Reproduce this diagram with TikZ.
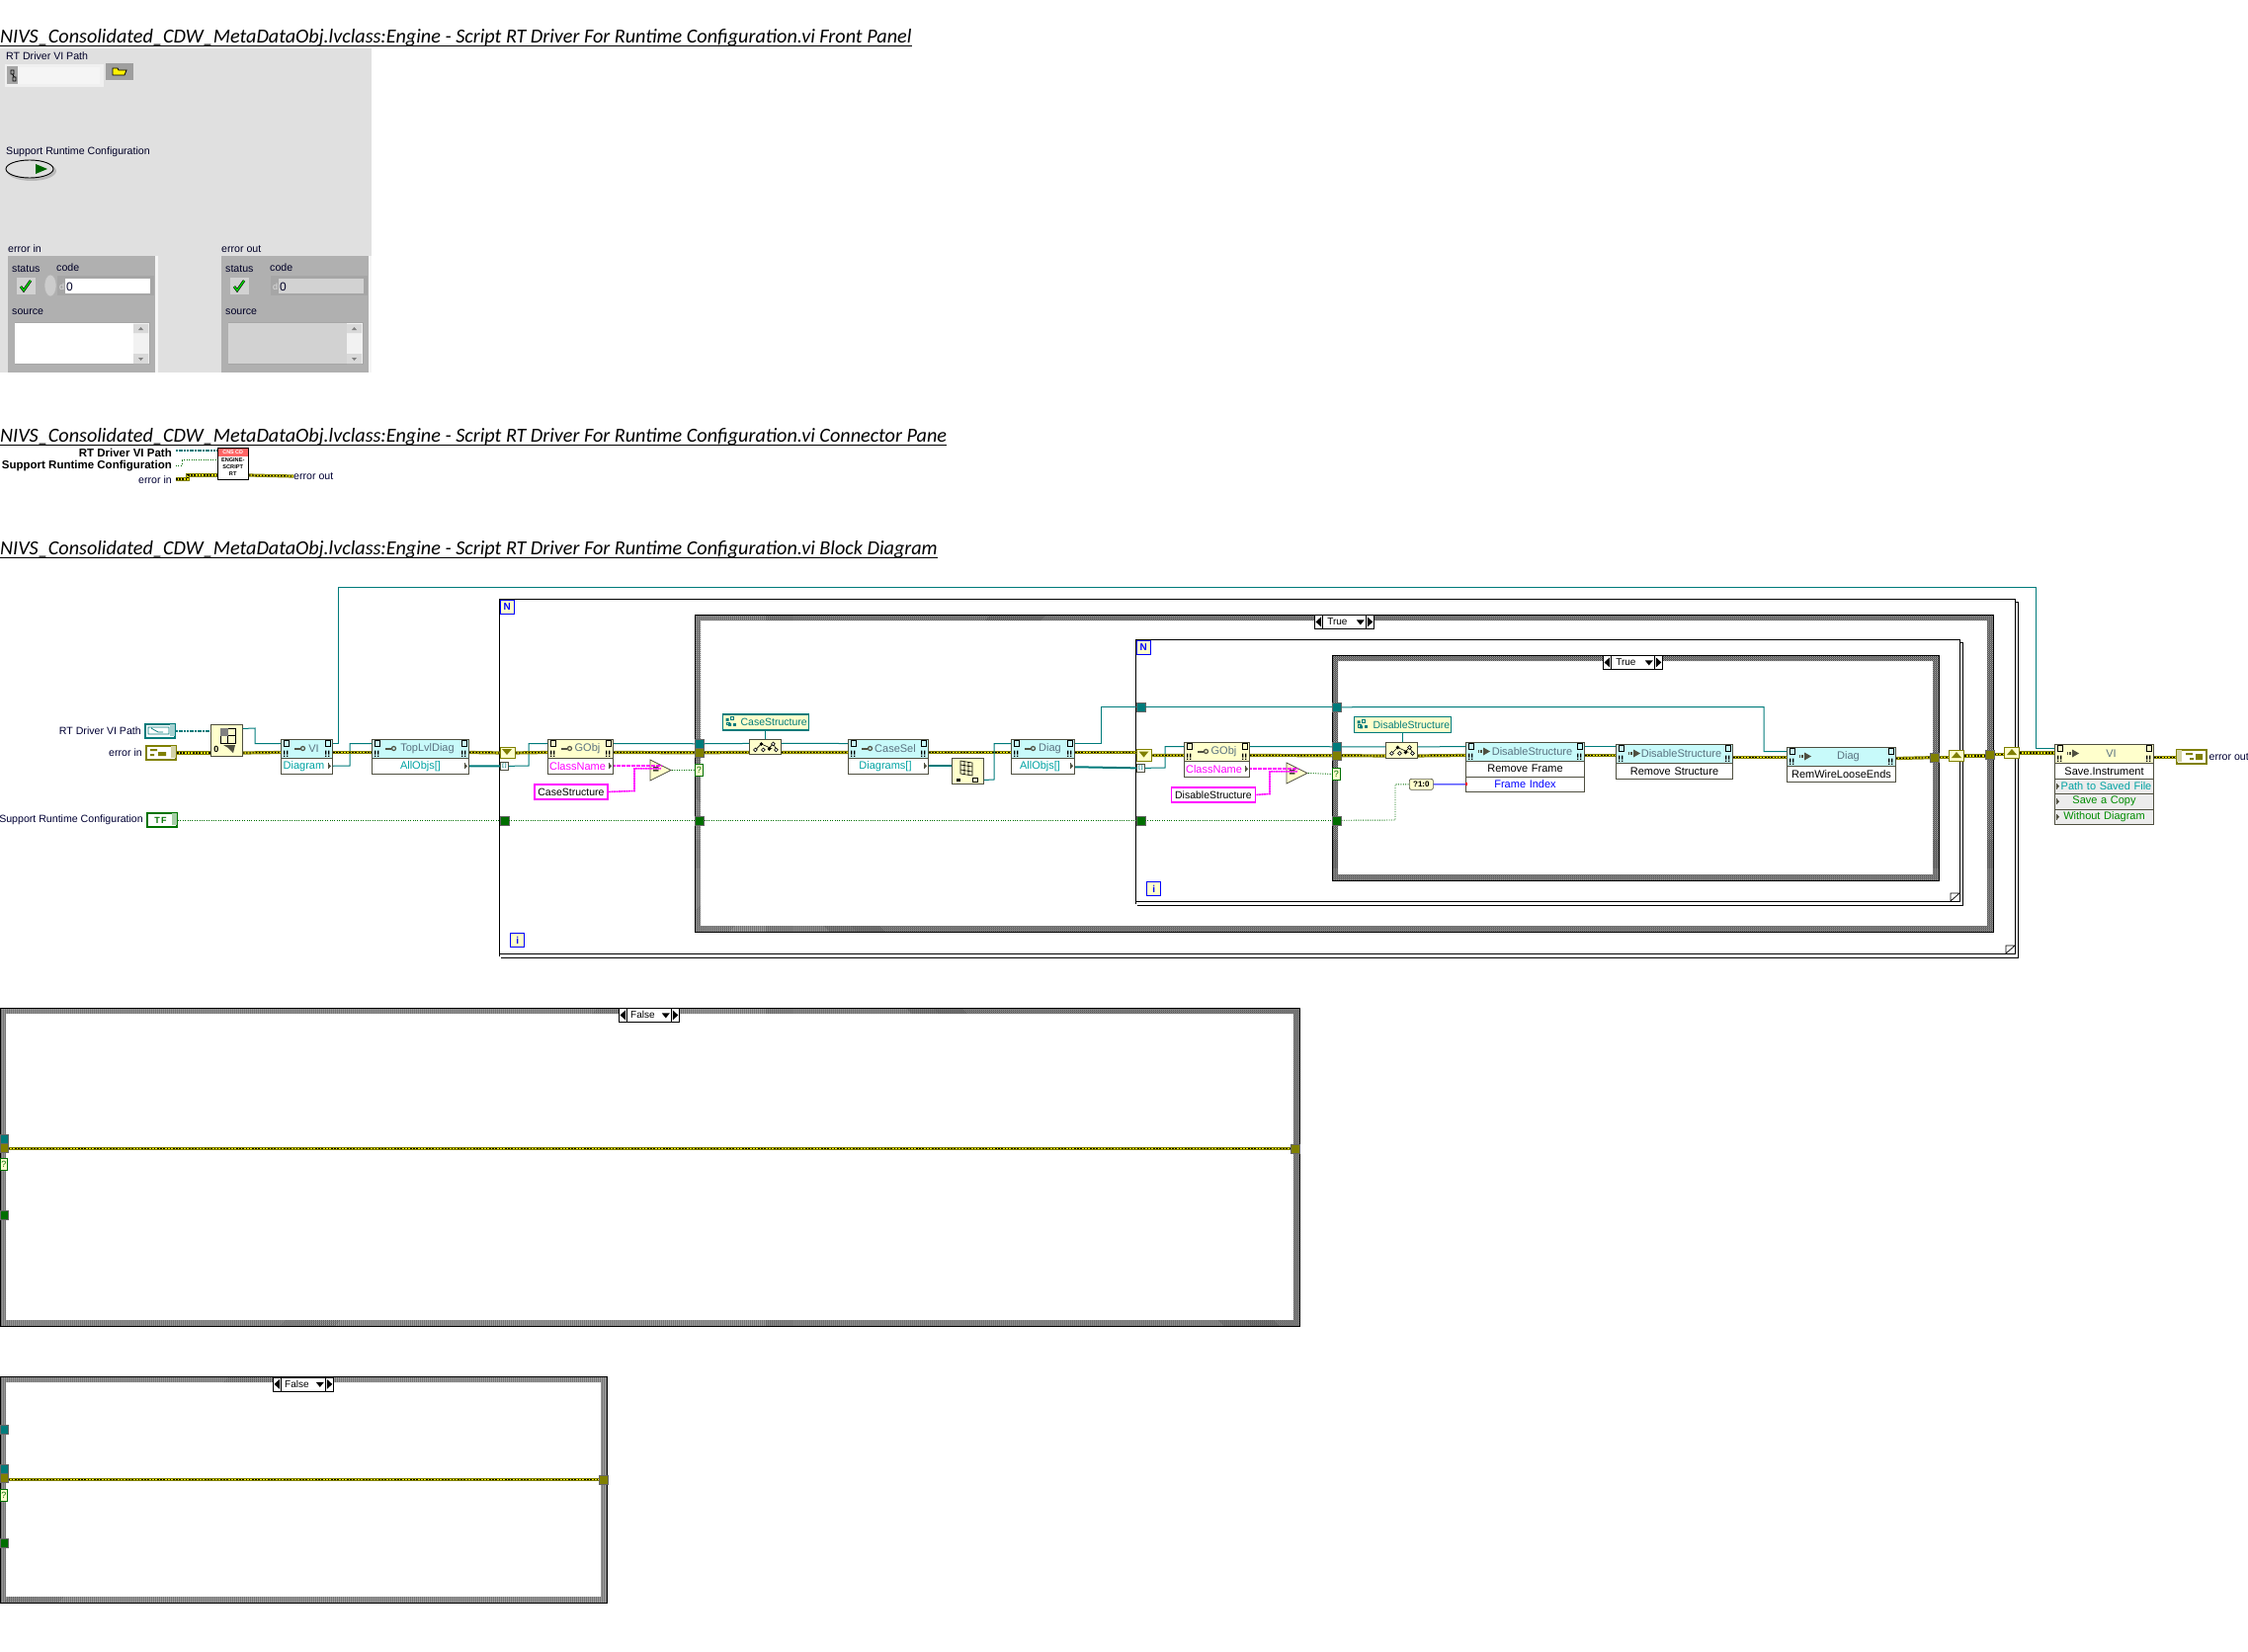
\documentclass[tikz,border=0pt]{standalone}
\usepackage{fontspec}
\usepackage{xcolor}
\usetikzlibrary{arrows.meta,patterns.meta,positioning,shapes.geometric}
\setmainfont{Liberation Sans}
\newfontfamily\titlefont{Carlito}
\definecolor{panelgray}{HTML}{E0E0E0}
\definecolor{clustergray}{HTML}{B0B0B0}
\definecolor{wireteal}{HTML}{007B7B}
\definecolor{wireolive}{HTML}{808000}
\definecolor{wiregreen}{HTML}{006E00}
\definecolor{wirepink}{HTML}{FF00FF}
\definecolor{viteal}{HTML}{C8FAFA}
\definecolor{viyellow}{HTML}{FFFFCC}
\definecolor{nodeedge}{HTML}{4F4F40}
\definecolor{hdrtext}{HTML}{5A7280}
\definecolor{rowgray}{HTML}{ECECEC}
\newcommand{\casewall}[4]{%
  \path[hatchfill,even odd rule] (#1,#2) rectangle (#3,#4) (#1+6,#2+6) rectangle (#3-6,#4-6);
  \draw[line width=1pt] (#1,#2) rectangle (#3,#4);}
\newcommand{\loopwall}[4]{%
  \draw[line width=1pt] (#1,#4) -- (#1,#2) -- (#3,#2) -- (#3,#4-3) -- (#1,#4-3);
  \draw[line width=1pt] (#3,#2+3) -- (#3+3.5,#2+3) -- (#3+3.5,#4+1) -- (#1+2,#4+1);
  \draw[line width=.7pt] (#3-9,#4-3) -- (#3-9,#4-11) -- (#3,#4-11) (#3-9,#4-3) -- (#3,#4-11);}
\tikzset{
  hatchfill/.style={pattern={Hatch[angle=45,distance=1.414pt,line width=.36pt]},pattern color=black},
  keymark/.pic={\draw[line width=2pt,draw=nodeedge] (0,0) -- (6,0); \draw[line width=1.2pt,draw=nodeedge] (8.5,0) circle (2);},
  setmark/.pic={\draw[line width=2.4pt,draw=nodeedge,dash pattern=on 1.4pt off 1pt] (0,0) -- (5,0); \fill[nodeedge] (5,-4) -- (12,0) -- (5,4) -- cycle;},
  docmark/.pic={\draw[line width=.6pt] (0,0) rectangle (5,6);
    \fill (0,10) rectangle (1.3,14) (0,15) rectangle (1.3,16.3) (3,10) rectangle (4.3,14) (3,15) rectangle (4.3,16.3);},
  outmark/.pic={\fill[nodeedge] (0,-3) -- (3,0) -- (0,3) -- cycle; \draw[line width=.5pt,draw=nodeedge] (0,-3) -- (0,3);},
  treemark/.pic={\draw[line width=.6pt] (-9,2) -- (-4,-3) -- (7,2) (3,2) -- (8,-3) -- (11,2);
    \fill (-4,-3) circle (1.9) (4,2) circle (1.9);
    \draw[line width=.6pt,fill=white] (-10,3) circle (1.9) (-2,3) circle (1.9) (8,-3) circle (1.9) (11,3) circle (1.9);},
  constmark/.pic={\fill[wireteal] (0,-4) rectangle (3,-1) (2.5,1) rectangle (5.5,4);
    \draw[line width=.6pt,draw=wireteal] (1,0.5) rectangle (4,3) (5,-5) rectangle (8,-2);
    \fill[wireteal] (7,1) rectangle (10,4);},
  % wires
  tw/.style={draw=wireteal,line width=1pt},
  tthick/.style={draw=wireteal,line width=2pt},
  pathw/.style={draw=wireteal,line width=1.5pt,dash pattern=on 2pt off .7pt},
  gw/.style={draw=wiregreen,line width=.9pt,dash pattern=on 1pt off 1.4pt},
  pinkw/.style={draw=wirepink,line width=1.6pt,dash pattern=on 2pt off .5pt},
  bluew/.style={draw=blue,line width=1pt},
  errw/.style={draw=wireolive,line width=3.2pt,
    postaction={draw=yellow,line width=1.2pt,solid},
    postaction={draw=black,line width=1.2pt,dash pattern=on 1.6pt off 1.6pt}},
  upw/.style={yshift=5.5pt},
  dnw/.style={yshift=-3.5pt},
  % nodes
  hdr/.style={draw=nodeedge,line width=1pt,anchor=north west,inner sep=0pt,text width=#1,minimum height=19pt,align=center,
    text=hdrtext,font=\fontsize{11}{12}\selectfont,execute at begin node={\hspace*{14pt}}},
  tealhdr/.style={hdr=#1,fill=viteal},
  yelhdr/.style={hdr=#1,fill=viyellow},
  proprow/.style={draw=nodeedge,line width=1pt,fill=white,inner sep=0pt,text width=#1,minimum height=15.5pt,align=center,
    font=\fontsize{11}{12}\selectfont},
  tealtun/.style={draw=gray!80!black,line width=.5pt,fill=wireteal,anchor=north west,inner sep=0pt,minimum width=9pt,minimum height=9pt},
  olivetun/.style={tealtun,fill=wireolive},
  greentun/.style={tealtun,fill=wiregreen},
  sreg/.style={draw=wireolive,line width=1.4pt,fill=viyellow,anchor=north west,inner sep=0pt,minimum width=15pt,minimum height=11.5pt},
  idxtun/.style={draw=nodeedge,line width=.7pt,fill=white,anchor=north west,inner sep=0pt,minimum width=8pt,minimum height=8pt,
    text=wireteal,font=\bfseries\fontsize{5}{5}\selectfont},
  qtun/.style={draw=wiregreen,line width=.8pt,fill=viyellow,anchor=north west,inner sep=0pt,minimum width=8pt,minimum height=12pt,
    text=wiregreen,font=\fontsize{9}{9}\selectfont},
  iconbox/.style={draw=nodeedge,line width=.9pt,fill=viyellow,anchor=north west,inner sep=0pt},
  strconst/.style={draw=wirepink,line width=1.8pt,fill=white,anchor=north west,inner sep=0pt,minimum height=15pt,
    font=\fontsize{10.5}{11}\selectfont},
  tconst/.style={draw=wireteal,line width=1.5pt,fill=viyellow,anchor=north west,inner sep=0pt,minimum height=16pt,
    text=wireteal,font=\fontsize{10.5}{11}\selectfont},
  eqnode/.style={isosceles triangle,isosceles triangle stretches=true,draw=nodeedge,line width=.8pt,fill=viyellow,inner sep=0pt,
    minimum width=21pt,minimum height=21pt,anchor=apex,font=\bfseries\fontsize{11}{11}\selectfont},
  ctrlbox/.style={line width=2pt,fill=white,anchor=north west,inner sep=0pt,minimum width=30pt,minimum height=14pt},
  dlabel/.style={inner sep=0pt,text=black!80!blue,font=\fontsize{10.6}{12}\selectfont},
  fplabel/.style={inner sep=0pt,anchor=west,text=black!85!blue,font=\fontsize{10.6}{12}\selectfont},
  cplabel/.style={inner sep=0pt,anchor=east,font=\bfseries\fontsize{11.5}{12}\selectfont},
  titlelab/.style={inner sep=0pt,anchor=base west,font=\titlefont\itshape\fontsize{20.2}{22}\selectfont},
  casesel/.style={draw=black,line width=.8pt,fill=white,anchor=north west,inner sep=0pt,minimum height=14pt,
    font=\fontsize{10}{11}\selectfont},
  nbox/.style={draw=blue,line width=1.4pt,fill=viyellow,anchor=north west,inner sep=0pt,minimum width=14pt,minimum height=14pt,
    text=blue,font=\bfseries\fontsize{10}{10}\selectfont}
}
\begin{document}
\begin{tikzpicture}[x=1pt,y=-1pt]
  \useasboundingbox (0,0) rectangle (2275,1672);
  % titles
  \node[titlelab] (title1) at (0,43.5) {NIVS\_Consolidated\_CDW\_MetaDataObj.lvclass:Engine - Script RT Driver For Runtime Configuration.vi Front Panel};
  \node[titlelab] (title2) at (0,447) {NIVS\_Consolidated\_CDW\_MetaDataObj.lvclass:Engine - Script RT Driver For Runtime Configuration.vi Connector Pane};
  \node[titlelab] (title3) at (0,561) {NIVS\_Consolidated\_CDW\_MetaDataObj.lvclass:Engine - Script RT Driver For Runtime Configuration.vi Block Diagram};
  \foreach \t in {title1,title2,title3}
    \draw[line width=1pt] ([yshift=-3pt]\t.base west) -- ([yshift=-3pt]\t.base east);
  % front panel
  \fill[panelgray] (0,49) rectangle (376,377);
  \node[fplabel] (lblpath) at (6,57) {RT Driver VI Path};
  \fill[gray!12] (5,65) rectangle (105,88);
  \fill[gray!70] (7,67) rectangle (18,85);
  \fill[white!96!black] (18,68) rectangle (101,85);
  \draw[line width=.7pt] (11,71) rectangle (14,75) (13,78) rectangle (16,82) (12.5,75) -- (14.5,78);
  \fill[gray!75] (107,64) rectangle (135,81);
  \draw[fill=yellow,line width=.8pt] (114,69) -- (119,69) -- (120,71) -- (128,71) -- (126,76) -- (114,76) -- cycle;
  \node[fplabel] (lblsup) at (6,154) {Support Runtime Configuration};
  \fill[gray!55] (32,173) ellipse (25 and 10);
  \draw[fill=gray!25,line width=.9pt] (30,171) ellipse (24 and 9);
  \fill[green!40!black] (36,166) -- (48,171) -- (36,176) -- cycle;
  \node[fplabel] (lblerrin) at (8,252) {error in};
  \node[fplabel] (lblerrout) at (224,252) {error out};
  \foreach \ox/\fld in {0/white,216/gray!35}{
    \begin{scope}[xshift=\ox pt]
      \fill[clustergray] (8,259) rectangle (157,377);
      \fill[gray!8] (157,259) rectangle (160,377);
      \fill[gray!35] (17,281) rectangle (36,298);
      \draw[line width=2.6pt] (21,290) -- (24,294) -- (31,284);
      \draw[line width=1.4pt,draw=green!85!black] (21,290) -- (24,294) -- (31,284);
      \fill[gray!70] (58,279) rectangle (156,299);
      \fill[\fld] (66,282) rectangle (152,297);
      \fill[gray!70] (15,326) rectangle (152,369);
      \fill[\fld] (15,327) rectangle (135,368);
      \fill[gray!10] (135,327) rectangle (151,368);
      \fill[gray!30] (135,328) rectangle (150,337) (135,358) rectangle (150,368);
      \fill[gray] (140,334) -- (145,334) -- (142.5,331) -- cycle (140,362) -- (145,362) -- (142.5,365) -- cycle;
      \node[fplabel] at (12,272) {status};
      \node[fplabel] at (57,271) {code};
      \node[fplabel] at (12,316) {source};
      \node[fplabel,font=\fontsize{12}{12}\selectfont] at (67,290) {0};
      \node[fplabel,text=gray!25,font=\fontsize{9}{9}\selectfont] at (60,290) {d};
    \end{scope}}
  \draw[fill=gray!40,draw=gray!60,line width=.5pt] (51,289) ellipse (6 and 11);
  % connector pane
  \node[cplabel] (cppath) at (174,458) {RT Driver VI Path};
  \node[cplabel] (cpsup) at (174,472) {Support Runtime Configuration};
  \node[inner sep=0pt,anchor=east,text=black!80!blue,font=\fontsize{10.6}{12}\selectfont] (cperr) at (174,486) {error in};
  \node[draw=black,line width=1pt,fill=white,anchor=north west,inner sep=0pt,minimum width=31pt,minimum height=32pt] (cpicon) at (220,453) {};
  \node[fill=red!60,anchor=north west,inner sep=0pt,minimum width=30pt,minimum height=8pt,text=white,font=\bfseries\fontsize{5.4}{6}\selectfont] (cpred) at (220.5,453.5) {CNS CD};
  \node[inner sep=0pt,align=center,font=\bfseries\fontsize{5.6}{7}\selectfont,below=1pt of cpred] (cptext) {ENGINE-\\SCRIPT\\RT};
  \node[inner sep=0pt,anchor=west,text=black!80!blue,font=\fontsize{10.6}{12}\selectfont] (cpout) at (297,482) {error out};
  \draw[pathw] ([shift={(4pt,2pt)}]cppath.east) -- ([yshift=-3pt]cpicon.north west);
  \draw[gw] ([shift={(4pt,1pt)}]cpsup.east) -- (184,471) |- ([yshift=-12pt]cpicon.north west);
  \draw[errw] ([shift={(4pt,1pt)}]cperr.east) -- (190,485) |- ([yshift=-28pt]cpicon.north west);
  \draw[errw] ([yshift=-28pt]cpicon.north east) -- (cpout.west);
  % block diagram frames
  \loopwall{505}{606}{2039}{968}
  \casewall{703}{622}{2017}{943}
  \loopwall{1149}{647}{1983}{915}
  \casewall{1348}{663}{1962}{891}
  \casewall{0}{1020}{1315}{1342}
  \casewall{0}{1393}{614}{1622}
  \node[casesel,minimum width=60pt] (selouter) at (1330,622) {True\hspace{14pt}\null};
  \node[casesel,minimum width=60pt] (selinner) at (1622,663) {True\hspace{14pt}\null};
  \node[casesel,minimum width=61pt] (selfalse1) at (626,1020) {False\hspace{13pt}\null};
  \node[casesel,minimum width=61pt] (selfalse2) at (276,1393.5) {False\hspace{13pt}\null};
  \foreach \s in {selouter,selinner,selfalse1,selfalse2}{
    \draw[line width=.8pt] ([xshift=8pt]\s.north west) -- ([xshift=8pt]\s.south west)
      ([xshift=-8pt]\s.north east) -- ([xshift=-8pt]\s.south east);
    \fill ([shift={(1.5pt,0pt)}]\s.west) -- ([shift={(7pt,5pt)}]\s.west) -- ([shift={(7pt,-5pt)}]\s.west) -- cycle;
    \fill ([shift={(-1.5pt,0pt)}]\s.east) -- ([shift={(-7pt,5pt)}]\s.east) -- ([shift={(-7pt,-5pt)}]\s.east) -- cycle;
    \fill ([shift={(-18pt,2pt)}]\s.east) -- ([shift={(-10pt,2pt)}]\s.east) -- ([shift={(-14pt,-3pt)}]\s.east) -- cycle;
  }
  \node[nbox] (nouter) at (505.5,606.5) {N};
  \node[nbox] (ninner) at (1149.5,647.5) {N};
  \node[nbox] (iouter) at (516,944) {i};
  \node[nbox] (iinner) at (1160,892) {i};
  % terminals
  \node[ctrlbox,draw=wireteal] (ctlpath) at (146,732) {};
  \fill[wireteal!35] (ctlpath.north east) ++(-6pt,-1pt) rectangle ++(5pt,-12pt);
  \draw[wireteal,line width=.7pt] (150,736) rectangle (171,743) (153,737) -- (160,741) -- (165,741);
  \node[dlabel,left=3pt of ctlpath] (lblctlpath) {RT Driver VI Path};
  \node[ctrlbox,draw=wireolive] (ctlerr) at (147,754) {};
  \fill[wireolive!35] (ctlerr.north east) ++(-6pt,-1pt) rectangle ++(5pt,-12pt);
  \fill[wireolive] (152,758) rectangle (159,760) (152,763) rectangle (156,765) (160,761) rectangle (168,765);
  \node[dlabel,left=3pt of ctlerr] (lblctlerr) {error in};
  \node[ctrlbox,draw=green!45!black,text=green!45!black,font=\bfseries\fontsize{9}{9}\selectfont] (ctlsup) at (148,822) {T\,F\hspace{3pt}\null};
  \fill[green!45!black!35] (ctlsup.north east) ++(-6pt,-1pt) rectangle ++(5pt,-12pt);
  \node[dlabel,left=3pt of ctlsup] (lblctlsup) {Support Runtime Configuration};
  \node[ctrlbox,draw=wireolive] (ctlout) at (2202,758) {};
  \fill[wireolive!35] (ctlout.north west) ++(1pt,-1pt) rectangle ++(5pt,-12pt);
  \fill[wireolive] (2212,762) rectangle (2219,764) (2216,767) rectangle (2220,769) (2222,763) rectangle (2229,769);
  \node[dlabel,right=1.5pt of ctlout] (lblctlout) {error out};
  % first row of nodes
  \node[iconbox,minimum width=32pt,minimum height=32pt] (tabnode) at (213,733) {};
  \draw[line width=.8pt] (223,737) rectangle (238,752) (230.5,737) -- (230.5,752) (223,744.5) -- (238,744.5);
  \fill[gray] (223,737) rectangle (230.5,744.5);
  \fill[nodeedge] (226,754) -- (238,754) -- (236,762) -- (231,757) -- cycle;
  \node[inner sep=0pt,font=\bfseries\fontsize{9}{9}\selectfont] (tabzero) at (219,758) {0};
  \node[tealhdr=52pt] (vi) at (284,748) {VI};
  \node[proprow=52pt,text=wireteal!70!cyan,below=-1pt of vi] (viprop) {Diagram\hspace{6pt}\null};
  \node[tealhdr=98pt] (topdiag) at (376,748) {TopLvlDiag};
  \node[proprow=98pt,text=wireteal!70!cyan,below=-1pt of topdiag] (topprop) {AllObjs[]};
  \node[sreg] (srin1) at (505.5,755.5) {};
  \fill[wireolive] (508,758) -- (518,758) -- (513,764) -- cycle;
  \node[idxtun] (idx1) at (506,771) {[\,]};
  % outer case, left part
  \node[yelhdr=66pt] (gobj1) at (554,748) {GObj};
  \node[proprow=66pt,text=wirepink,below=-1pt of gobj1] (gobj1prop) {ClassName\hspace{6pt}\null};
  \node[strconst,minimum width=74pt] (strcase) at (540,793) {CaseStructure};
  \node[eqnode] (eq1) at (680,779.5) {=};
  \node[tealtun] (tt1) at (703,748) {};
  \node[olivetun] (to1) at (703,757) {};
  \node[qtun] (q1) at (703,773) {?};
  \node[greentun] (tg1) at (505.5,825.5) {};
  \node[greentun] (tg2) at (703,825.5) {};
  \node[iconbox,minimum width=32pt,minimum height=15pt] (sel1) at (758,748) {};
  \node[tconst,minimum width=87pt,text width=84pt,align=right] (cs1) at (730.5,722) {CaseStructure};
  \node[tealhdr=81pt] (casesel) at (858,748) {CaseSel};
  \node[proprow=81pt,text=wireteal!70!cyan,below=-1pt of casesel] (caseselprop) {Diagrams[]\hspace{6pt}\null};
  \node[iconbox,minimum width=32pt,minimum height=26pt] (arrnode) at (963,767) {};
  \draw[line width=.6pt] (972,770) -- (984,772) -- (984,785) -- (972,783) -- cycle (976,770.5) -- (976,783.5) (980,771) -- (980,784.5) (972,774) -- (984,776) (972,779) -- (984,781);
  \fill (968,788) rectangle (972,791);
  \draw[line width=.6pt] (984,787) rectangle (989,791);
  \node[tealhdr=64pt] (diag1) at (1023,748) {Diag};
  \node[proprow=64pt,text=wireteal!70!cyan,below=-1pt of diag1] (diag1prop) {AllObjs[]\hspace{6pt}\null};
  % inner loop and case
  \node[tealtun] (tl1) at (1149.5,711) {};
  \node[tealtun] (tl2) at (1348,711) {};
  \node[sreg] (srin2) at (1150,758) {};
  \fill[wireolive] (1152.5,760.5) -- (1162.5,760.5) -- (1157.5,766.5) -- cycle;
  \node[idxtun] (idx2) at (1150,773) {[\,]};
  \node[greentun] (tg3) at (1149.5,825.5) {};
  \node[greentun] (tg4) at (1348,825.5) {};
  \node[yelhdr=66pt] (gobj2) at (1198,751) {GObj};
  \node[proprow=66pt,text=wirepink,below=-1pt of gobj2] (gobj2prop) {ClassName\hspace{6pt}\null};
  \node[strconst,minimum width=85pt] (strdis) at (1184.5,796) {DisableStructure};
  \node[eqnode] (eq2) at (1324,782.5) {=};
  \node[tealtun] (tt2) at (1348,751) {};
  \node[olivetun] (to2) at (1348,760) {};
  \node[qtun] (q2) at (1348,777) {?};
  \node[iconbox,minimum width=32pt,minimum height=16pt] (sel2) at (1402,751) {};
  \node[tconst,minimum width=98pt,text width=96pt,align=right] (cs2) at (1369.5,724.5) {DisableStructure};
  \node[tealhdr=120pt] (dsa) at (1483,751) {DisableStructure};
  \node[proprow=120pt,below=-1pt of dsa] (dsarow) {Remove Frame};
  \node[proprow=120pt,text=blue,below=-1pt of dsarow] (dsaidx) {Frame Index};
  \node[draw=nodeedge,line width=.7pt,fill=viyellow,rounded corners=2pt,anchor=north west,inner sep=0pt,minimum width=24pt,minimum height=11pt,font=\bfseries\fontsize{8}{8}\selectfont] (boolint) at (1426,788) {?1:0};
  \node[tealhdr=118pt] (dsb) at (1635,753) {DisableStructure};
  \node[proprow=118pt,below=-1pt of dsb] (dsbrow) {Remove Structure};
  \node[tealhdr=110pt] (diag2) at (1808,756) {Diag};
  \node[proprow=110pt,below=-1pt of diag2] (diag2row) {RemWireLooseEnds};
  \node[olivetun] (to3) at (1953,762) {};
  \node[sreg] (srout1) at (1972,758.5) {};
  \fill[wireolive] (1975,767) -- (1985,767) -- (1980,761) -- cycle;
  \node[olivetun] (to4) at (2009,759) {};
  \node[sreg] (srout2) at (2028,755.5) {};
  \fill[wireolive] (2031,764) -- (2041,764) -- (2036,758) -- cycle;
  \node[yelhdr=100pt] (save) at (2079,753) {VI};
  \node[proprow=100pt,below=-1pt of save] (saverow) {Save.Instrument};
  \node[proprow=100pt,fill=rowgray,text=wireteal!70!cyan,below=-1pt of saverow] (savepath) {\hspace{4pt}Path to Saved File};
  \node[proprow=100pt,fill=rowgray,text=green!55!black,below=-1pt of savepath] (savecopy) {Save a Copy};
  \node[proprow=100pt,fill=rowgray,text=green!55!black,below=-1pt of savecopy] (savenodiag) {Without Diagram};
  % False cases
  \node[tealtun,minimum width=8pt] (f1teal) at (0,1148) {};
  \node[olivetun,minimum width=8pt] (f1olive) at (0,1157) {};
  \node[qtun,minimum width=7pt] (f1q) at (0,1172) {?};
  \node[greentun,minimum width=8pt] (f1green) at (0,1225) {};
  \node[olivetun] (f1out) at (1306,1158) {};
  \node[tealtun,minimum width=8pt] (f2teala) at (0,1442) {};
  \node[tealtun,minimum width=8pt] (f2tealb) at (0,1482) {};
  \node[olivetun,minimum width=8pt] (f2olive) at (0,1491) {};
  \node[qtun,minimum width=7pt] (f2q) at (0,1507) {?};
  \node[greentun,minimum width=8pt] (f2green) at (0,1557) {};
  \node[olivetun] (f2out) at (606,1493) {};
  % icons on the nodes
  \foreach \n in {vi,topdiag,gobj1,casesel,diag1,gobj2,dsa,dsb,diag2,save}{
    \pic at ([shift={(3pt,-1.5pt)}]\n.north west) {docmark};
    \pic at ([shift={(-8pt,-1.5pt)}]\n.north east) {docmark};
  }
  \foreach \n in {vi,topdiag,gobj1,casesel,diag1,gobj2}
    \pic at ([shift={(14pt,-9.5pt)}]\n.north west) {keymark};
  \foreach \n in {dsa,dsb,diag2,save}
    \pic at ([shift={(13pt,-9.5pt)}]\n.north west) {setmark};
  \foreach \n in {viprop,topprop,gobj1prop,caseselprop,diag1prop,gobj2prop}
    \pic at ([xshift=-5pt]\n.east) {outmark};
  \foreach \n in {savepath,savecopy,savenodiag}
    \pic at ([xshift=2pt]\n.west) {outmark};
  \foreach \n in {sel1,sel2}
    \pic at (\n.center) {treemark};
  \pic at ([xshift=4pt]cs1.west) {constmark};
  \pic at ([xshift=4pt]cs2.west) {constmark};
  \fill[red] ([yshift=1.5pt]dsaidx.west) rectangle ++(2pt,-3pt);
  % wires, left to right
  \draw[pathw] (ctlpath.east) -- (ctlpath.east -| tabnode.west);
  \draw[errw] (ctlerr.east) -- (ctlerr.east -| tabnode.west);
  \draw[errw] (ctlerr.east -| tabnode.east) -- ([dnw]vi.west);
  \draw[tw] ([yshift=12pt]tabnode.east) -- (258,737) |- ([upw]vi.west);
  \draw[tw] ([upw]vi.east) -- (342,752.5) |- (2060,594) -- (2060,757.5) -- ([upw]save.west);
  \draw[tw] (viprop.east) -- (354,775) |- ([upw]topdiag.west);
  \draw[errw] ([dnw]vi.east) -- ([dnw]topdiag.west);
  \draw[errw] ([dnw]topdiag.east) -- (srin1.west);
  \draw[tthick] (topprop.east) -- (idx1.west);
  \draw[tw] (idx1.east) -- (535,775) |- ([upw]gobj1.west);
  \draw[errw] (srin1.east) -- ([dnw]gobj1.west);
  \draw[tw] ([upw]gobj1.east) -- (tt1.west);
  \draw[errw] ([dnw]gobj1.east) -- (to1.west);
  \draw[pinkw] (gobj1prop.east) -- (gobj1prop.east -| eq1.left side);
  \draw[pinkw] (strcase.east) -- (642,800.5) |- ([yshift=-4pt]eq1.left side);
  \draw[gw] (eq1.apex) -- (q1.west);
  \draw[gw] (ctlsup.east) -- (ctlsup.east -| tg1.west);
  \draw[gw] (tg1.east) -- (tg2.west);
  \draw[gw] (tg2.east) -- (tg3.west);
  \draw[gw] (tg3.east) -- (tg4.west);
  \draw[tw] (tt1.east) -- ([yshift=3.5pt]sel1.west);
  \draw[errw] (to1.east) -- ([yshift=-5.5pt]sel1.west);
  \draw[tw] (cs1.south) -- (cs1.south |- sel1.north);
  \draw[tw] ([yshift=3.5pt]sel1.east) -- ([upw]casesel.west);
  \draw[errw] ([yshift=-5.5pt]sel1.east) -- ([dnw]casesel.west);
  \draw[tthick] (caseselprop.east) -- (caseselprop.east -| arrnode.west);
  \draw[errw] ([dnw]casesel.east) -- ([dnw]diag1.west);
  \draw[tw] ([yshift=-9pt]arrnode.east) -- (1006,789) |- ([upw]diag1.west);
  \draw[tw] ([upw]diag1.east) -- (1114.5,752.5) |- (tl1.west);
  \draw[tthick] ([yshift=-1pt]diag1prop.east) -- (idx2.west);
  \draw[errw] ([dnw]diag1.east) -- ([dnw]diag1.east -| srin2.west);
  \draw[tw] (idx2.east) -- (1179,777) |- ([upw]gobj2.west);
  \draw[errw] (srin2.east) -- ([dnw]gobj2.west);
  \draw[tw] ([upw]gobj2.east) -- (tt2.west);
  \draw[errw] ([dnw]gobj2.east) -- (to2.west);
  \draw[pinkw] (gobj2prop.east) -- (gobj2prop.east -| eq2.left side);
  \draw[pinkw] (strdis.east) -- (1285,803.5) |- ([yshift=-4pt]eq2.left side);
  \draw[gw] (eq2.apex) -- (q2.west);
  \draw[tw] (tl1.east) -- (tl2.west);
  \draw[tw] (tl2.east) -- (1785,715.5) |- ([upw]diag2.west);
  \draw[tw] (tt2.east) -- ([yshift=3.5pt]sel2.west);
  \draw[errw] (to2.east) -- ([yshift=-5.5pt]sel2.west);
  \draw[tw] (cs2.south) -- (cs2.south |- sel2.north);
  \draw[tw] ([yshift=3.5pt]sel2.east) -- ([upw]dsa.west);
  \draw[errw] ([yshift=-5.5pt]sel2.east) -- ([dnw]dsa.west);
  \draw[gw] (tg4.east) -- (1412,830) |- (boolint.west);
  \draw[bluew] (boolint.east) -- (dsaidx.west);
  \draw[tw] ([upw]dsa.east) -- ([upw]dsa.east -| dsb.west);
  \draw[errw] ([dnw]dsa.east) -- ([dnw]dsa.east -| dsb.west);
  \draw[errw] ([dnw]dsb.east) -- ([dnw]dsb.east -| diag2.west);
  \draw[errw] ([yshift=-1.5pt]diag2.east) -- (to3.west);
  \draw[errw] (to3.east) -- (to3.east -| srout1.west);
  \draw[errw] (srout1.east) -- (srout1.east -| to4.west);
  \draw[errw] (to4.east) -- (to4.east -| srout2.west);
  \draw[errw] (srout2.east) -- (srout2.east -| save.west);
  \draw[errw] ([dnw]save.east) -- ([dnw]save.east -| ctlout.west);
  \draw[errw] (f1out.west -| f1olive.east) -- (f1out.west);
  \draw[errw] (f2out.west -| f2olive.east) -- (f2out.west);
\end{tikzpicture}
\end{document}
